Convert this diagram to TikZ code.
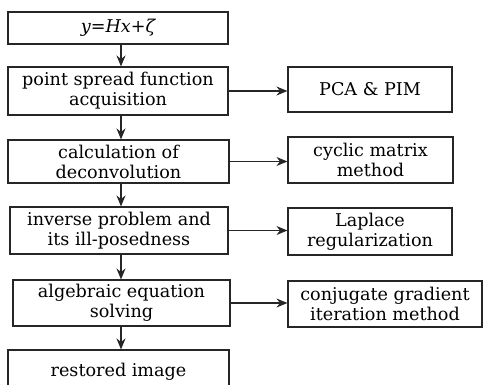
\documentclass[tikz,border=0pt]{standalone}
\usepackage{fontspec}
\setmainfont{DejaVu Serif}
\usetikzlibrary{arrows.meta}
\begin{document}
\begin{tikzpicture}[x=1pt,y=-1pt,
  box/.style={draw=black!85,line width=1.1pt,fill=white,align=center,inner sep=0pt,
    font=\fontsize{17.6}{20}\selectfont},
  arr/.style={draw=black!85,line width=1.1pt,-{Stealth[length=11pt,width=9pt]}}]
\useasboundingbox (0,0) rectangle (483,384);
% main chain
\node[box,minimum width=220pt,minimum height=32pt] (b1) at (118,28) {\itshape y\upshape=\itshape Hx\upshape+\itshape ζ};
\node[box,minimum width=220pt,minimum height=48pt] (b2) at (118,91) {point spread function\\acquisition};
\node[box,minimum width=221pt,minimum height=43pt] (b3) at (118.5,161.5) {calculation of\\deconvolution};
\node[box,minimum width=218pt,minimum height=47pt] (b4) at (119,230.5) {inverse problem and\\its ill-posedness};
\node[box,minimum width=217pt,minimum height=46pt] (b5) at (121.5,303) {algebraic equation\\solving};
\node[box,minimum width=221pt,minimum height=44pt] (b6) at (118.5,372) {restored image};
% side methods
\node[box,minimum width=164pt,minimum height=45pt] (r1) at (370,89.5) {PCA \& PIM};
\node[box,minimum width=165pt,minimum height=46pt] (r2) at (370.5,160) {cyclic matrix\\method};
\node[box,minimum width=164pt,minimum height=47pt] (r3) at (370,231.5) {Laplace\\regularization};
\node[box,minimum width=194pt,minimum height=46pt] (r4) at (385,304) {conjugate gradient\\iteration method};
% vertical spine
\coordinate (spine) at (121,0);
\foreach \a/\b in {b1/b2,b2/b3,b3/b4,b4/b5,b5/b6}
  \draw[arr] (\a.south -| spine) -- (\b.north -| spine);
% branches
\foreach \a/\b in {b2/r1,b3/r2,b4/r3,b5/r4}
  \draw[arr] (\a.east) -- (\a.east -| \b.west);
\end{tikzpicture}
\end{document}
